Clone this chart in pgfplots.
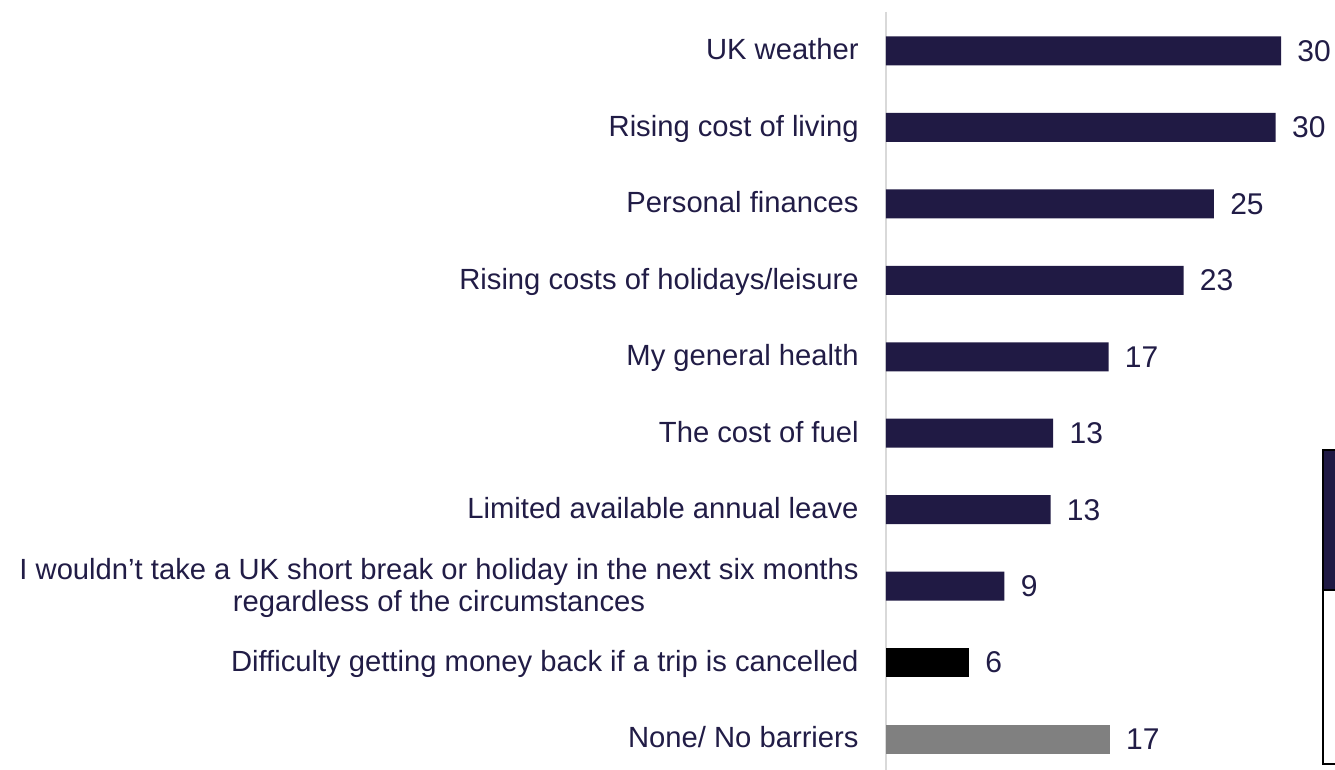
\documentclass[border=0pt]{standalone}
\usepackage{fontspec}
\setmainfont{Liberation Sans}
\usepackage{pgfplots}
\pgfplotsset{compat=1.18}
\definecolor{navy}{RGB}{32,26,68}
\definecolor{txt}{RGB}{33,28,70}
\definecolor{gbar}{RGB}{128,128,128}
\begin{document}
\begin{tikzpicture}
\path[use as bounding box] (0,0) rectangle (667.5pt,385pt);
\clip (0,0) rectangle (667.5pt,385pt);
\begin{axis}[
 at={(443pt,0pt)}, anchor=south west,
 scale only axis, width=224.5pt, height=379pt,
 xbar, bar width=14.5pt, bar shift=0pt,
 xmin=0, xmax=34.1, ymin=-0.51, ymax=9.405, y dir=reverse,
 axis x line=none, axis y line=left,
 y axis line style={-, draw=black!15, line width=1pt},
 ytick={0,...,9}, major tick length=0pt, ytick style={draw=none},
 yticklabels={UK weather, Rising cost of living, Personal finances, Rising costs of holidays/leisure, My general health, The cost of fuel, Limited available annual leave, {I wouldn’t take a UK short break or holiday in the next six months\\regardless of the circumstances}, Difficulty getting money back if a trip is cancelled, None/ No barriers},
 yticklabel style={font=\fontsize{14.6pt}{16pt}\selectfont, text=txt, align=center, inner sep=0pt, xshift=-13.5pt, text depth=1.7pt},
 nodes near coords, point meta=explicit symbolic,
 every node near coord/.append style={font=\fontsize{15pt}{18pt}\selectfont, text=txt, anchor=west, inner sep=0pt, xshift=8pt},
]
\addplot[fill=navy, draw=none] coordinates {
 (30,0) [30]
 (29.6,1) [30]
 (24.9,2) [25]
 (22.6,3) [23]
 (16.9,4) [17]
 (12.7,5) [13]
 (12.5,6) [13]
 (9.0,7) [9]
};
\addplot[fill=black, draw=none] coordinates {(6.3,8) [6]};
\addplot[fill=gbar, draw=none] coordinates {(17.0,9) [17]};
\end{axis}
\fill[navy] (661.5pt,90pt) rectangle (680pt,160pt);
\draw[black, line width=1pt] (680pt,3pt) -- (661.5pt,3pt) -- (661.5pt,160pt) -- (680pt,160pt);
\draw[black, line width=1pt] (661.5pt,90pt) -- (680pt,90pt);
\end{tikzpicture}
\end{document}
